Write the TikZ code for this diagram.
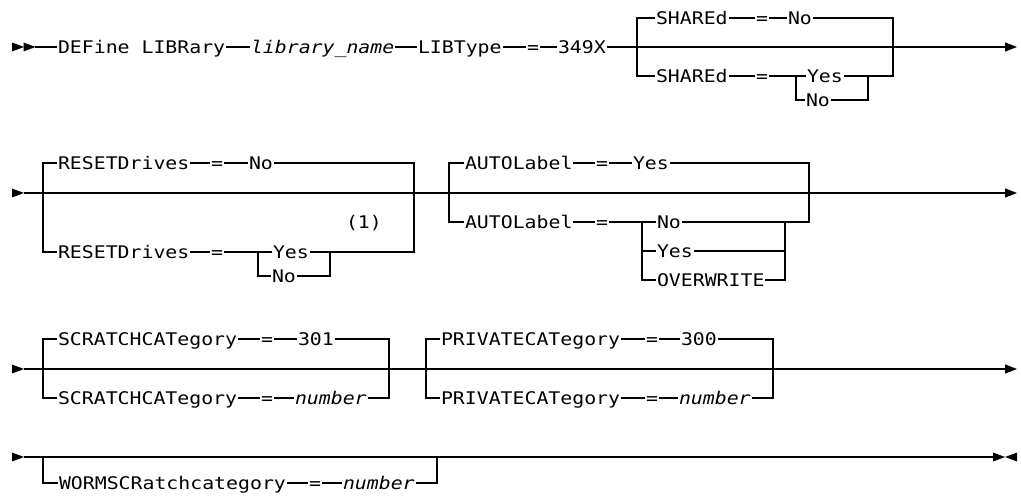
\documentclass[tikz,border=0pt]{standalone}
\usepackage{fontspec}
\newfontfamily\railfont[FakeStretch=1.14]{DejaVu Sans Mono}
\usetikzlibrary{arrows.meta}
\tikzset{
  kw/.style={inner sep=1pt,outer sep=0pt,anchor=west,text height=12.6pt,text depth=0pt,
    font=\railfont\fontsize{17.4}{20}\selectfont},
  var/.style={kw,font=\railfont\fontsize{17.4}{20}\selectfont\itshape},
  endarrow/.style={-{Triangle[length=12pt,width=9pt]}},
  rtri/.pic={\fill (0,-4.5) -- (12,0) -- (0,4.5) -- cycle;},
}
\begin{document}
\begin{tikzpicture}[x=1pt,y=-1pt,line width=1.1pt]
\useasboundingbox (0,0) rectangle (1021,497);

% first line
\pic at (12,47) {rtri};
\pic at (23.5,47) {rtri};
\coordinate (s1) at (35,47);
\coordinate (e1) at (1017,47);
\node[kw] (define) at (57,47) {DEFine LIBRary};
\node[var] (libname) at (250,47) {library\_name};
\node[kw] (libtype) at (417,47) {LIBType};
\node[kw] (eqtype) at (526,47) {=};
\node[kw] (type) at (557,47) {349X};

\coordinate (shl) at (637,47);
\coordinate (shr) at (893,47);
\node[kw] (shA) at (655,18) {SHAREd};
\node[kw] (eqshA) at (755,18) {=};
\node[kw] (shno) at (787,18) {No};
\node[kw] (shB) at (655,76) {SHAREd};
\node[kw] (eqshB) at (755,76) {=};
\coordinate (shjl) at (796,76);
\coordinate (shjr) at (868,76);
\node[kw] (shyes) at (806,76) {Yes};
\node[kw] (shnoB) at (805,100) {No};

\draw (s1) -- (define) -- (libname) -- (libtype) -- (eqtype) -- (type);
\draw[endarrow] (type) -- (e1);
\draw (shl) |- (shA);
\draw (shA) -- (eqshA) -- (shno) -| (shr);
\draw (shl) |- (shB);
\draw (shB) -- (eqshB) -- (shyes) -- (shjr) -| (shr);
\draw (shjl) |- (shnoB);
\draw (shnoB) -| (shjr);

% second line
\pic at (12,193) {rtri};
\coordinate (s2) at (24,193);
\coordinate (e2) at (1017,193);
\draw[endarrow] (s2) -- (e2);

\coordinate (rsl) at (43,193);
\coordinate (rsr) at (414,193);
\node[kw] (rsA) at (57,163) {RESETDrives};
\node[kw] (eqrsA) at (210,163) {=};
\node[kw] (rsno) at (248,163) {No};
\node[kw] (rsB) at (57,252) {RESETDrives};
\node[kw] (eqrsB) at (210,252) {=};
\coordinate (rsjl) at (258,252);
\coordinate (rsjr) at (330,252);
\node[kw] (rsyes) at (272,252) {Yes};
\node[kw] (rsnoB) at (271,276) {No};
\node[kw] (note) at (345,222) {(1)};

\draw (rsl) |- (rsA);
\draw (rsA) -- (eqrsA) -- (rsno) -| (rsr);
\draw (rsl) |- (rsB);
\draw (rsB) -- (eqrsB) -- (rsyes) -- (rsjr) -| (rsr);
\draw (rsjl) |- (rsnoB);
\draw (rsnoB) -| (rsjr);

\coordinate (all) at (449,193);
\coordinate (alr) at (809,193);
\node[kw] (alA) at (464,163) {AUTOLabel};
\node[kw] (eqalA) at (595,163) {=};
\node[kw] (alyes) at (632,163) {Yes};
\node[kw] (alB) at (464,222) {AUTOLabel};
\node[kw] (eqalB) at (595,222) {=};
\coordinate (aljl) at (642,222);
\coordinate (aljr) at (785,222);
\node[kw] (alno) at (656,222) {No};
\node[kw] (alyesB) at (656,251) {Yes};
\node[kw] (alover) at (656,280) {OVERWRITE};

\draw (all) |- (alA);
\draw (alA) -- (eqalA) -- (alyes) -| (alr);
\draw (all) |- (alB);
\draw (alB) -- (eqalB) -- (alno) -- (aljr) -| (alr);
\draw (aljl) |- (alyesB);
\draw (aljl) |- (alover);
\draw (alyesB) -| (aljr);
\draw (alover) -| (aljr);

% third line
\pic at (12,369) {rtri};
\coordinate (s3) at (24,369);
\coordinate (e3) at (1017,369);
\draw[endarrow] (s3) -- (e3);

\coordinate (scl) at (43,369);
\coordinate (scr) at (389,369);
\node[kw] (scA) at (57,339) {SCRATCHCATegory};
\node[kw] (eqscA) at (260,339) {=};
\node[kw] (scdef) at (297,339) {301};
\node[kw] (scB) at (57,398) {SCRATCHCATegory};
\node[kw] (eqscB) at (260,398) {=};
\node[var] (scnum) at (294,398) {number};

\draw (scl) |- (scA);
\draw (scA) -- (eqscA) -- (scdef) -| (scr);
\draw (scl) |- (scB);
\draw (scB) -- (eqscB) -- (scnum) -| (scr);

\coordinate (pcl) at (426,369);
\coordinate (pcr) at (773,369);
\node[kw] (pcA) at (440,339) {PRIVATECATegory};
\node[kw] (eqpcA) at (645,339) {=};
\node[kw] (pcdef) at (680,339) {300};
\node[kw] (pcB) at (440,398) {PRIVATECATegory};
\node[kw] (eqpcB) at (645,398) {=};
\node[var] (pcnum) at (678,398) {number};

\draw (pcl) |- (pcA);
\draw (pcA) -- (eqpcA) -- (pcdef) -| (pcr);
\draw (pcl) |- (pcB);
\draw (pcB) -- (eqpcB) -- (pcnum) -| (pcr);

% last line
\pic at (12,457) {rtri};
\coordinate (s4) at (24,457);
\coordinate (e4) at (993,457);
\draw (s4) -- (e4);
\pic at (993,457) {rtri};
\pic[rotate=180] at (1017,457) {rtri};

\coordinate (wml) at (43,457);
\coordinate (wmr) at (437,457);
\node[kw] (wm) at (58,483) {WORMSCRatchcategory};
\node[kw] (eqwm) at (308,483) {=};
\node[var] (wmnum) at (342,483) {number};

\draw (wml) |- (wm);
\draw (wm) -- (eqwm) -- (wmnum) -| (wmr);

\end{tikzpicture}
\end{document}
